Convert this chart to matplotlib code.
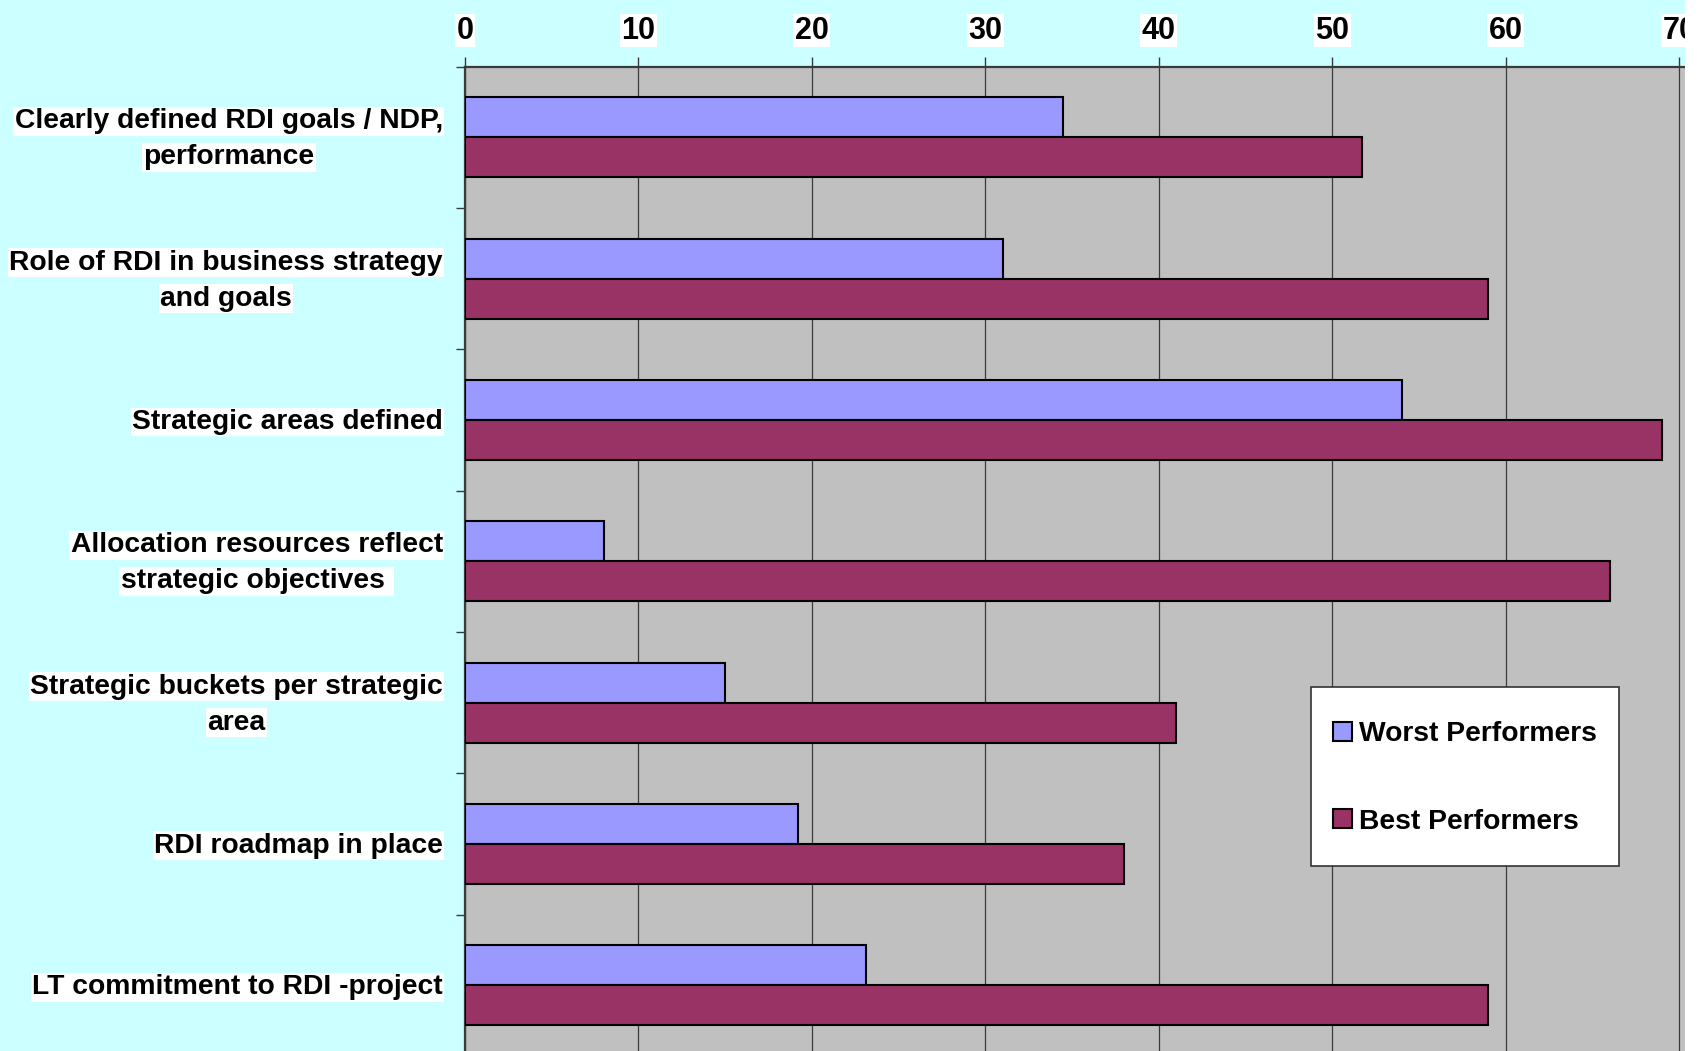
import matplotlib
matplotlib.use("Agg")
import matplotlib.pyplot as plt
import matplotlib.transforms as mtransforms
from matplotlib.patches import Rectangle
from matplotlib.container import BarContainer
from matplotlib.legend_handler import HandlerPatch, update_from_first_child
import numpy as np

# data
categories = [
    "Clearly defined RDI goals / NDP,\nperformance",
    "Role of RDI in business strategy\nand goals",
    "Strategic areas defined",
    "Allocation resources reflect\nstrategic objectives ",
    "Strategic buckets per strategic\narea",
    "RDI roadmap in place",
    "LT commitment to RDI -project",
]
worst = [34.5, 31.0, 54.0, 8.0, 15.0, 19.2, 23.1]
best = [51.7, 59.0, 69.0, 66.0, 41.0, 38.0, 59.0]
series_names = ["Worst Performers", "Best Performers"]
x_ticks = [0, 10, 20, 30, 40, 50, 60, 70]

# look
BG = "#CCFFFF"
PLOT_BG = "#C0C0C0"
COL_WORST = "#9999FF"
COL_BEST = "#993366"
GRID = "#3a3a3a"
FONT = "Liberation Sans"
LABEL_SIZE = 20.3
BAR_H = 0.283

W, H = 1705, 1051
fig = plt.figure(figsize=(W / 100, H / 100), dpi=100)
fig.patch.set_facecolor(BG)

ax_left, ax_right = 464.9 / W, 1685 / W
ax_top_px, ax_bot_px = 66.7, 66.7 + 7 * 141.3
ax = fig.add_axes([ax_left, 1 - ax_bot_px / H, ax_right - ax_left, (ax_bot_px - ax_top_px) / H])
ax.set_facecolor(PLOT_BG)

y = np.arange(len(categories))
ax.barh(y - BAR_H / 2, worst, height=BAR_H, color=COL_WORST, edgecolor="black",
        linewidth=1.5, label=series_names[0], zorder=3)
ax.barh(y + BAR_H / 2, best, height=BAR_H, color=COL_BEST, edgecolor="black",
        linewidth=1.5, label=series_names[1], zorder=3)

ax.set_xlim(0, 70.33)
ax.set_ylim(len(categories) - 0.5, -0.5)

# x axis on top
ax.xaxis.tick_top()
ax.set_xticks(x_ticks)
ax.set_xticklabels([str(v) for v in x_ticks], fontfamily=FONT, fontweight="bold", fontsize=22)
ax.tick_params(axis="x", direction="out", length=7, width=1, color=GRID, pad=8)
for lab in ax.get_xticklabels():
    lab.set_bbox(dict(facecolor="white", edgecolor="none", pad=1))
ax.grid(axis="x", color=GRID, linewidth=0.9, zorder=1)
ax.set_axisbelow(True)

# y ticks on category boundaries, labels drawn line by line
ax.set_yticks(np.arange(len(categories) + 1) - 0.5)
ax.set_yticklabels([])
ax.tick_params(axis="y", direction="out", length=6.5, width=1, color=GRID)

for side in ["right", "bottom"]:
    ax.spines[side].set_visible(False)
ax.spines["top"].set_color(GRID)
ax.spines["top"].set_linewidth(1.6)
ax.spines["left"].set_color(GRID)
ax.spines["left"].set_linewidth(1.6)

# category labels: each line with its own white box, lines centered as a block
trans = mtransforms.blended_transform_factory(ax.transAxes, ax.transData)
renderer = fig.canvas.get_renderer()
LABEL_PAD = 22 * 0.72   # points between label block and axis
LINE_STEP = 18 * 0.72
SHIFT = -2 * 0.72
for i, lab in enumerate(categories):
    lines = lab.split("\n")
    widths = []
    for ln in lines:
        t = fig.text(0, 0, ln, fontfamily=FONT, fontweight="bold", fontsize=LABEL_SIZE)
        widths.append(t.get_window_extent(renderer).width * 0.72)
        t.remove()
    block_w = max(widths)
    n = len(lines)
    for k, ln in enumerate(lines):
        dy = 0 if n == 1 else (LINE_STEP if k == 0 else -LINE_STEP)
        ax.annotate(ln, xy=(0, i), xycoords=trans,
                    xytext=(-LABEL_PAD - block_w / 2, dy + SHIFT), textcoords="offset points",
                    ha="center", va="center", fontfamily=FONT, fontweight="bold",
                    fontsize=LABEL_SIZE, annotation_clip=False,
                    bbox=dict(facecolor="white", edgecolor="none", pad=1))


def square_patch(legend, orig_handle, xdescent, ydescent, width, height, fontsize):
    # small square sitting on the text baseline
    s = 0.68 * fontsize
    return Rectangle((-xdescent, 0.02 * fontsize), s, s)


leg = ax.legend(loc="upper left", bbox_to_anchor=(1311 / W, 1 - 687 / H),
                bbox_transform=fig.transFigure, frameon=True, fancybox=False,
                prop=dict(family=FONT, weight="bold", size=LABEL_SIZE),
                handlelength=0.68, handleheight=2.2, handletextpad=0.25,
                labelspacing=1.43, borderpad=0.78, borderaxespad=0,
                handler_map={BarContainer: HandlerPatch(patch_func=square_patch,
                                                        update_func=update_from_first_child)})
leg.get_frame().set_facecolor("white")
leg.get_frame().set_edgecolor("#333333")
leg.get_frame().set_linewidth(1.2)
leg.get_frame().set_alpha(1)
leg.set_zorder(10)

# white strip at the right edge of the picture
fig.patches.append(Rectangle((1685 / W, 0), 1 - 1685 / W, 1, transform=fig.transFigure,
                             facecolor="white", edgecolor="none", zorder=20))

fig.savefig("out.png", dpi=100, facecolor=fig.get_facecolor())
